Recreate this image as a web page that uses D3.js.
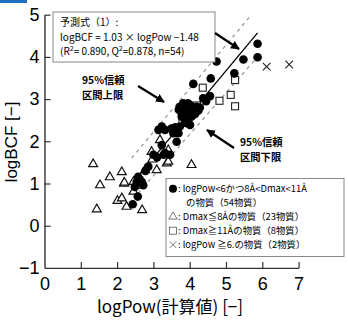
<!DOCTYPE html>
<html>
<head>
<meta charset="utf-8">
<script src="https://cdn.jsdelivr.net/npm/d3@7"></script>
<style>
  body { margin: 0; background: #fff; }
  svg { display: block; }
  text { font-family: "Liberation Sans", Arial, "Noto Sans CJK JP", sans-serif; }
  .jp { font-family: "Noto Sans CJK JP", sans-serif; }
</style>
</head>
<body>
<div id="chart"></div>
<script>
  // substances with logPow<6 and 8A<Dmax<11A  [logPow, logBCF]
  const circles = [
    [5.87, 4.31], [5.87, 3.99], [5.48, 3.94], [4.74, 3.89], [5.23, 3.61],
    [4.58, 3.49], [4.10, 3.36], [4.56, 3.07], [4.37, 3.02], [4.28, 2.80],
    [3.82, 2.90], [4.01, 2.86], [4.19, 2.82], [3.73, 2.82], [3.87, 2.74],
    [4.10, 2.70], [3.78, 2.66], [4.05, 2.58], [4.24, 2.73], [3.92, 2.43],
    [3.73, 2.35], [3.60, 2.33], [4.01, 2.39], [3.87, 2.48], [3.23, 2.35],
    [3.32, 2.27], [3.14, 2.27], [3.69, 2.19], [3.55, 2.19], [3.64, 1.99],
    [3.23, 1.91], [3.32, 1.72], [3.46, 1.68], [3.00, 1.68], [2.86, 1.40],
    [2.58, 1.16], [2.68, 1.04], [2.54, 1.04], [2.49, 0.92], [2.72, 0.96],
    [2.57, 0.69], [2.43, 0.51], [3.78, 2.58], [3.95, 2.90], [3.90, 2.62],
    [4.15, 2.65], [3.28, 1.68], [3.10, 1.62], [3.50, 2.30], [2.78, 1.30],
    [2.62, 1.10], [4.45, 2.95], [3.70, 2.75], [3.95, 2.78]
  ];
  // Dmax <= 8A
  const triangles = [
    [1.34, 1.46], [1.80, 1.15], [2.13, 1.27], [1.53, 0.96], [2.19, 1.00],
    [1.44, 0.39], [2.01, 0.59], [2.13, 0.65], [2.26, 0.45], [2.69, 0.37],
    [2.45, 1.04], [2.45, 0.81], [2.77, 1.32], [3.09, 1.32], [2.95, 1.75],
    [3.37, 1.48], [3.18, 2.03], [3.41, 1.79], [3.41, 1.52], [4.05, 1.44],
    [2.97, 1.57], [2.20, 1.02], [2.60, 0.95]
  ];
  // Dmax >= 11A
  const squares = [
    [4.36, 3.27], [4.82, 2.96], [5.13, 3.10], [5.25, 3.45], [5.25, 2.83],
    [3.95, 2.70], [4.20, 2.85], [3.80, 2.50]
  ];
  // logPow >= 6
  const crosses = [[6.12, 3.77], [6.74, 3.82]];

  // regression line and 95% interval, end points
  const fitLine = [[2.45, 1.04], [5.87, 4.57]];
  const upperLine = [[2.40, 1.60], [5.69, 4.99]];
  const lowerLine = [[2.58, 0.77], [5.95, 4.08]];

  const xTicks = [0, 1, 2, 3, 4, 5, 6, 7];
  const yTicks = [-1, 0, 1, 2, 3, 4, 5];

  const eqLines = ["予測式（1）:", "logBCF = 1.03 × logPow −1.48"];
  const legendLines = [
    ["circle", ": logPow<6かつ8Å<Dmax<11Å"],
    ["", "の物質（54物質）"],
    ["triangle", ": Dmax≦8Åの物質（23物質）"],
    ["square", ": Dmax≧11Åの物質（8物質）"],
    ["cross", ": logPow ≧6.の物質（2物質）"]
  ];

  const width = 348, height = 325;
  const svg = d3.select('#chart').append('svg')
    .attr('width', width)
    .attr('height', height);

  // small blue header piece at top-left
  svg.append('rect').attr('x', 0).attr('y', 0).attr('width', 27).attr('height', 3)
    .attr('fill', '#1f6fc0');

  const x = d3.scaleLinear().domain([0, 7]).range([44.5, 298.6]);
  const y = d3.scaleLinear().domain([-1, 5]).range([267.9, 14.7]);

  // axes
  const xAxis = svg.append('g')
    .attr('transform', `translate(0,${y(-1)})`)
    .call(d3.axisBottom(x).tickValues(xTicks).tickSize(-6).tickPadding(9).tickSizeOuter(0)
      .tickFormat(d3.format('d')));
  const yAxis = svg.append('g')
    .attr('transform', `translate(${x(0)},0)`)
    .call(d3.axisLeft(y).tickValues(yTicks).tickSize(-6).tickPadding(5).tickSizeOuter(0)
      .tickFormat(d => d < 0 ? '−' + Math.abs(d) : d));

  [xAxis, yAxis].forEach(a => {
    a.select('.domain').attr('stroke', '#333').attr('stroke-width', 1.4);
    a.selectAll('.tick line').attr('stroke', '#333').attr('stroke-width', 1.2);
    a.selectAll('.tick text').attr('fill', '#000').style('font-size', '18px');
  });
  xAxis.selectAll('.tick').filter(d => d === 0).select('line').remove();
  yAxis.selectAll('.tick').filter(d => d === -1).select('line').remove();

  // axis titles
  svg.append('text').attr('class', 'jp')
    .attr('x', 170).attr('y', 313)
    .attr('text-anchor', 'middle').style('font-size', '17px')
    .text('logPow(計算値) [−]');
  svg.append('text')
    .attr('transform', 'translate(17,142) rotate(-90)')
    .attr('text-anchor', 'middle').style('font-size', '17px')
    .text('logBCF [−]');

  // interval and regression lines
  const line = d3.line().x(d => x(d[0])).y(d => y(d[1]));
  [upperLine, lowerLine].forEach(l => {
    svg.append('path').attr('d', line(l))
      .attr('fill', 'none').attr('stroke', '#9a9a9a')
      .attr('stroke-width', 1.3).attr('stroke-dasharray', '3.5,4');
  });
  svg.append('path').attr('d', line(fitLine))
    .attr('fill', 'none').attr('stroke', '#000').attr('stroke-width', 1.3);

  // markers
  const tri = d3.symbol().type(d3.symbolTriangle).size(34);
  const cross = d3.symbol().type(d3.symbolX).size(40);
  svg.append('g').selectAll('path').data(triangles).join('path')
    .attr('d', tri)
    .attr('transform', d => `translate(${x(d[0])},${y(d[1])})`)
    .attr('fill', '#fff').attr('stroke', '#111').attr('stroke-width', 1.2);

  svg.append('g').selectAll('rect').data(squares).join('rect')
    .attr('x', d => x(d[0]) - 3.5).attr('y', d => y(d[1]) - 3.5)
    .attr('width', 7).attr('height', 7)
    .attr('fill', '#fff').attr('stroke', '#222').attr('stroke-width', 1.1);

  svg.append('g').selectAll('circle').data(circles).join('circle')
    .attr('cx', d => x(d[0])).attr('cy', d => y(d[1]))
    .attr('r', 4.3).attr('fill', '#000');

  svg.append('g').selectAll('path').data(crosses).join('path')
    .attr('d', cross)
    .attr('transform', d => `translate(${x(d[0])},${y(d[1])})`)
    .attr('fill', 'none').attr('stroke', '#222').attr('stroke-width', 1.1);

  // equation box
  svg.append('rect').attr('x', 53).attr('y', 12).attr('width', 162).attr('height', 50)
    .attr('fill', '#fff').attr('stroke', '#888').attr('stroke-width', 1);
  const eq = svg.append('text').attr('class', 'jp').style('font-size', '10px');
  eq.append('tspan').attr('x', 60).attr('y', 26).text(eqLines[0]);
  eq.append('tspan').attr('x', 60).attr('y', 41).text(eqLines[1]);
  const stat = eq.append('tspan').attr('x', 60).attr('y', 55);
  stat.append('tspan').text('(R');
  stat.append('tspan').attr('dy', -4).style('font-size', '7px').text('2');
  stat.append('tspan').attr('dy', 4).text('= 0.890, Q');
  stat.append('tspan').attr('dy', -4).style('font-size', '7px').text('2');
  stat.append('tspan').attr('dy', 4).text('=0.878, n=54)');

  // arrows
  const defs = svg.append('defs');
  defs.append('marker').attr('id', 'arr')
    .attr('viewBox', '0 0 10 10').attr('refX', 9).attr('refY', 5)
    .attr('markerWidth', 4).attr('markerHeight', 4).attr('orient', 'auto')
    .append('path').attr('d', 'M0,0L10,5L0,10z').attr('fill', '#000');
  const arrows = [
    [[215, 33], [239, 49]],
    [[138, 86], [164, 102]],
    [[234, 148], [207, 130]]
  ];
  arrows.forEach(a => {
    svg.append('line')
      .attr('x1', a[0][0]).attr('y1', a[0][1]).attr('x2', a[1][0]).attr('y2', a[1][1])
      .attr('stroke', '#000').attr('stroke-width', 2.2).attr('marker-end', 'url(#arr)');
  });

  const note = (tx, ty, lines) => {
    lines.forEach((s, i) => svg.append('text').attr('class', 'jp')
      .attr('x', tx).attr('y', ty + i * 14.5)
      .style('font-size', '10.3px').style('font-weight', 'bold')
      .text(s));
  };
  note(82, 84, ['95%信頼', '区間上限']);
  note(240, 146, ['95%信頼', '区間下限']);

  // legend
  svg.append('rect').attr('x', 166).attr('y', 178.5).attr('width', 178).attr('height', 78)
    .attr('fill', '#fff').attr('stroke', '#888').attr('stroke-width', 1);
  const legendY = [192, 206, 220, 234, 248];
  legendLines.forEach((l, i) => {
    const ly = legendY[i], cy = ly - 3.3, cx = 173;
    if (l[0] === 'circle') {
      svg.append('circle').attr('cx', cx).attr('cy', cy).attr('r', 4).attr('fill', '#000');
    } else if (l[0] === 'triangle') {
      svg.append('path').attr('d', d3.symbol().type(d3.symbolTriangle).size(30)())
        .attr('transform', `translate(${cx},${cy})`)
        .attr('fill', 'none').attr('stroke', '#555').attr('stroke-width', 0.8);
    } else if (l[0] === 'square') {
      svg.append('rect').attr('x', cx - 3.5).attr('y', cy - 3.5).attr('width', 7).attr('height', 7)
        .attr('fill', 'none').attr('stroke', '#555').attr('stroke-width', 0.8);
    } else if (l[0] === 'cross') {
      svg.append('path').attr('d', d3.symbol().type(d3.symbolX).size(30)())
        .attr('transform', `translate(${cx},${cy})`)
        .attr('fill', 'none').attr('stroke', '#555').attr('stroke-width', 0.8);
    }
    svg.append('text').attr('class', 'jp').attr('x', i === 1 ? 186 : 178).attr('y', ly)
      .style('font-size', '9.4px').text(l[1]);
  });
</script>
</body>
</html>
